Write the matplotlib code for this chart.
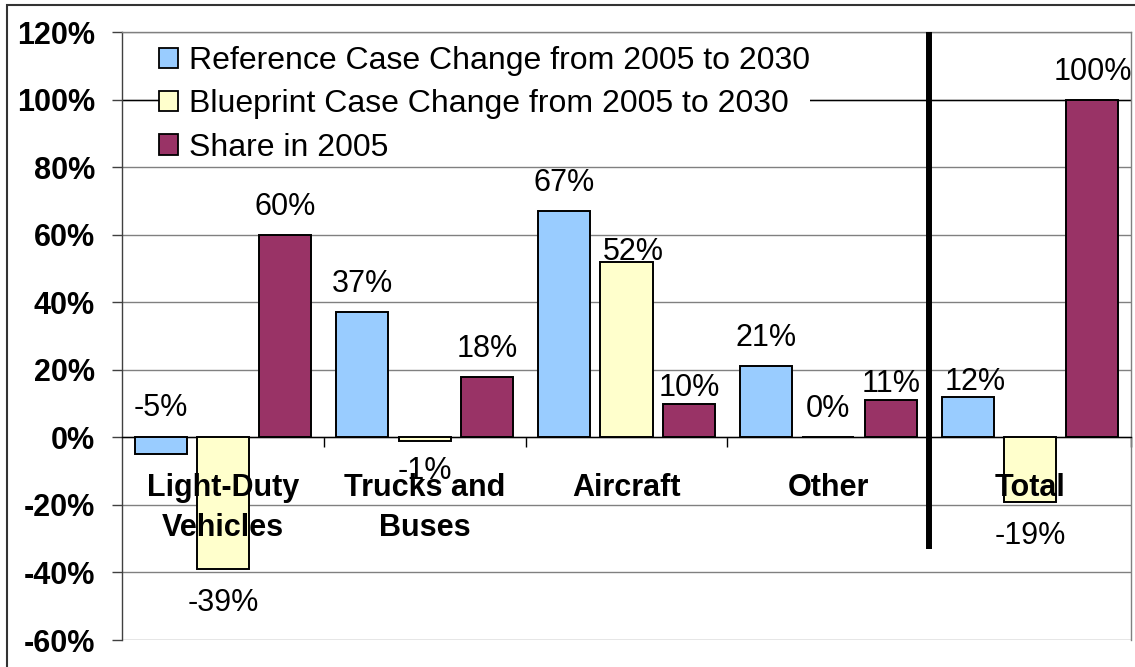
import matplotlib
matplotlib.use("Agg")
import matplotlib.pyplot as plt
from matplotlib.patches import Rectangle
import numpy as np

# Transportation emissions by mode
categories = ["Light-Duty\nVehicles", "Trucks and\nBuses", "Aircraft", "Other", "Total"]
ref_change = [-5, 37, 67, 21, 12]
blueprint_change = [-39, -1, 52, 0, -19]
share_2005 = [60, 18, 10, 11, 100]
series_names = [
    "Reference Case Change from 2005 to 2030",
    "Blueprint Case Change from 2005 to 2030",
    "Share in 2005",
]
y_ticks = [-60, -40, -20, 0, 20, 40, 60, 80, 100, 120]

colors = ["#99CCFF", "#FFFFCC", "#993366"]

plt.rcParams["font.family"] = ["Liberation Sans", "DejaVu Sans"]

W, H = 1135, 667
PX = 0.72  # points per pixel at 100 dpi
FS = 22
fig = plt.figure(figsize=(W / 100, H / 100), dpi=100)
ax = fig.add_axes([122 / W, 1 - 640 / H, 1009 / W, 608 / H])

x = np.arange(len(categories))
width = 0.258
offsets = [-0.309, 0.0, 0.309]
series = [ref_change, blueprint_change, share_2005]

for vals, off, c, name in zip(series, offsets, colors, series_names):
    ax.bar(x + off, vals, width, color=c, edgecolor="black", linewidth=1.4,
           label=name, zorder=3)

# value labels: baseline 20 px above positive bars, 42 px below negative ones,
# with a few labels nudged by hand (series index, category index) -> (dx, dy) px
nudge = {
    (0, 0): (0, 38),
    (1, 1): (0, -38),
    (1, 2): (7, 2),
    (2, 2): (0, 8),
    (2, 3): (0, 8),
    (0, 4): (7, 7),
}
for si, (vals, off) in enumerate(zip(series, offsets)):
    for ci, v in enumerate(vals):
        dx, dy = nudge.get((si, ci), (0, 20 if v >= 0 else -42))
        ax.annotate(f"{v}%", xy=(ci + off, v), xytext=(dx * PX, dy * PX),
                    textcoords="offset points", ha="center", va="baseline",
                    fontsize=FS, color="black", zorder=6)

# category names sit inside the plot, just under the zero line
for ci, name in enumerate(categories):
    ax.text(ci, -10.5, name, ha="center", va="top", fontsize=FS,
            fontweight="bold", linespacing=1.44, zorder=6)

# divider between the individual modes and the total
ax.plot([len(categories) - 1.5] * 2, [-33.2, 120], color="black", lw=4.3,
        solid_capstyle="butt", zorder=4)

ax.set_xlim(-0.5, len(categories) - 0.5)
ax.set_ylim(y_ticks[0], y_ticks[-1])
ax.set_yticks(y_ticks)
ax.set_yticklabels([f"{t}%" for t in y_ticks], fontsize=FS, fontweight="bold")
ax.tick_params(axis="y", direction="out", length=10 * PX, width=1,
               color="#404040", pad=17 * PX)

ax.set_xticks(list(x + 0.5))
ax.set_xticklabels([])
ax.tick_params(axis="x", direction="out", length=10 * PX, width=1, color="black")

ax.set_axisbelow(True)
ax.yaxis.grid(True, color="#808080", lw=1)
ax.axhline(100, color="black", lw=1, zorder=1)

ax.spines["bottom"].set_position(("data", 0))
ax.spines["bottom"].set_color("black")
ax.spines["left"].set_color("#404040")
ax.spines["right"].set_color("#808080")
ax.spines["top"].set_color("#808080")
for s in ax.spines.values():
    s.set_linewidth(1)

leg = ax.legend(loc="upper left", bbox_to_anchor=(159 / W, 1 - 46 / H),
                bbox_transform=fig.transFigure, borderaxespad=0, fontsize=23,
                handlelength=0.6, handleheight=0.6, handletextpad=0.33,
                labelspacing=0.42, borderpad=0.0, frameon=True, fancybox=False,
                framealpha=1, facecolor="white", edgecolor="none")
for h in leg.legend_handles:
    h.set_linewidth(1.3)

# outer chart border
fig.patches.append(Rectangle((7 / W, -0.1), 1.2, 1.1 - 5 / H,
                             transform=fig.transFigure, fill=False,
                             lw=1.5, edgecolor="#333333", zorder=0))

fig.savefig("out.png", dpi=100, facecolor="white")
